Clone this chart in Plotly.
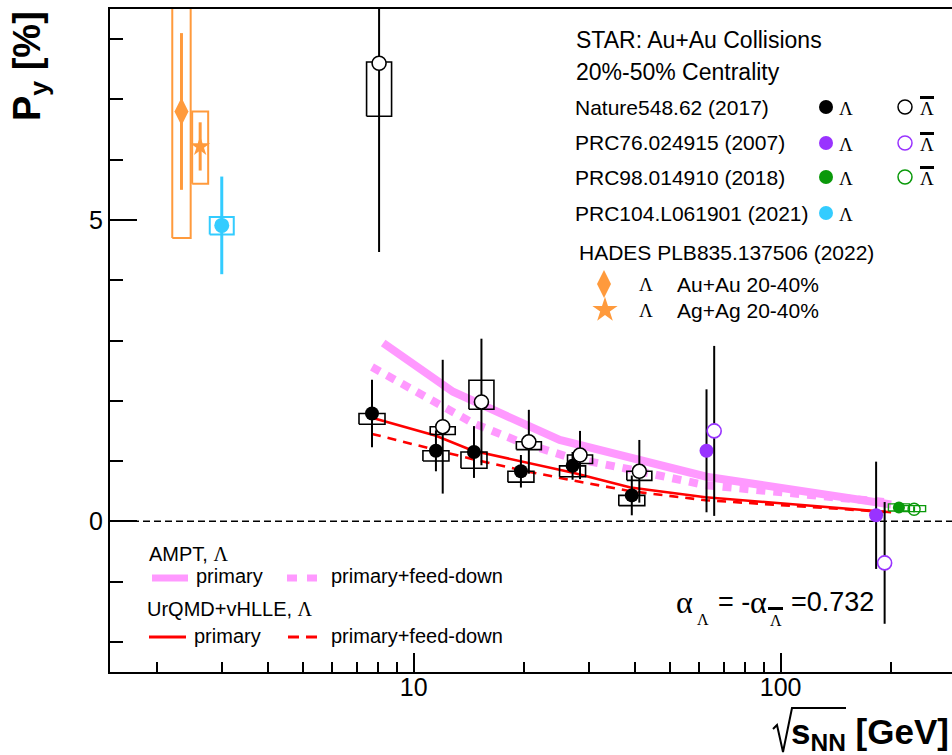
import math
import plotly.graph_objects as go

# ---------------- data ----------------
# STAR BES-I, Nature 548, 62 (2017): Lambda (filled) / anti-Lambda (open)
bes_lam_E = [7.7, 11.5, 14.6, 19.6, 27.1, 39.3]
bes_lam_P = [1.79, 1.17, 1.15, 0.83, 0.92, 0.43]
bes_lam_stat = [0.56, 0.34, 0.43, 0.27, 0.23, 0.33]
bes_lam_sys_lo = [1.61, 1.00, 0.88, 0.65, 0.74, 0.26]
bes_lam_sys_hi = [1.79, 1.17, 1.15, 0.83, 0.92, 0.43]

bes_alam_E = [8.05, 12.0, 15.3, 20.6, 28.4, 41.2]
bes_alam_P = [7.60, 1.57, 1.98, 1.32, 1.10, 0.83]
bes_alam_stat = [3.13, 1.11, 1.05, 0.53, 0.40, 0.52]
bes_alam_sys_lo = [6.72, 1.44, 1.86, 1.19, 0.96, 0.68]
bes_alam_sys_hi = [7.62, 1.57, 2.34, 1.32, 1.10, 0.83]

# STAR PRC 76, 024915 (2007)
prc76_lam_E = [62.8, 182.0]
prc76_lam_P = [1.17, 0.10]
prc76_lam_stat = [1.02, 0.89]
prc76_alam_E = [65.9, 192.0]
prc76_alam_P = [1.50, -0.69]
prc76_alam_stat = [1.41, 1.01]

# STAR PRC 98, 014910 (2018)
prc98_lam_E = [210.0]
prc98_lam_P = [0.23]
prc98_lam_stat = [0.04]
prc98_lam_sys_lo = [0.17]
prc98_lam_sys_hi = [0.29]
prc98_alam_E = [231.0]
prc98_alam_P = [0.20]
prc98_alam_stat = [0.05]
prc98_alam_sys_lo = [0.16]
prc98_alam_sys_hi = [0.26]

# STAR PRC 104, L061901 (2021), 3 GeV
prc104_E = [3.0]
prc104_P = [4.91]
prc104_stat = [0.81]
prc104_sys_lo = [4.76]
prc104_sys_hi = [5.05]

# HADES PLB 835, 137506 (2022)
hades_auau_E = [2.33]
hades_auau_P = [6.80]
hades_auau_stat = [1.30]
hades_auau_sys_lo = [4.70]
hades_auau_sys_hi = [8.90]
hades_agag_E = [2.62]
hades_agag_P = [6.22]
hades_agag_stat = [0.40]
hades_agag_sys_lo = [5.60]
hades_agag_sys_hi = [6.80]

# Model curves
ampt_prim_E = [8.26, 12.8, 25.0, 62.8, 200.0]
ampt_prim_P = [2.96, 2.15, 1.35, 0.74, 0.28]
ampt_fd_E = [7.7, 11.5, 14.5, 19.6, 27.0, 39.0, 62.4, 200.0]
ampt_fd_P = [2.56, 1.96, 1.63, 1.31, 1.05, 0.86, 0.60, 0.31]
urqmd_E = [7.7, 11.5, 14.5, 19.6, 27.0, 39.0, 62.4, 200.0]
urqmd_prim_P = [1.72, 1.42, 1.17, 0.99, 0.81, 0.56, 0.40, 0.15]
urqmd_fd_P = [1.45, 1.19, 1.03, 0.85, 0.68, 0.50, 0.35, 0.15]

x_tick_vals = [10, 100]
x_tick_text = ["10", "100"]
x_minor_vals = [2, 3, 4, 5, 6, 7, 8, 9, 20, 30, 40, 50, 60, 70, 80, 90, 200]
y_tick_vals = [0, 5]
y_tick_text = ["0", "5"]
y_minor_vals = [-2, -1, 1, 2, 3, 4, 6, 7, 8]

# ---------------- style ----------------
W, H = 952, 755
L, R, T, B = 110, 0, 9, 83
PW, PH = W - L - R, H - T - B
X_MIN, X_MAX = 1.488, 293.0
Y_MIN, Y_MAX = -2.5, 8.5
DECADE_PX = PW / (math.log10(X_MAX) - math.log10(X_MIN))

SANS = "Liberation Sans, Arial, sans-serif"
SERIF = "Liberation Serif, Times New Roman, serif"
ORANGE = "#ff9a3c"
CYAN = "#33ccff"
PURPLE = "#9933ff"
GREEN = "#0a990a"
PINK = "#ff99ff"
RED = "#ff0000"

fig = go.Figure()


def px_x(px):
    return (px - L) / PW


def px_y(py):
    return (H - B - py) / PH


def sys_boxes(E, lo, hi, half_px, color, width=1.6):
    f = 10 ** (half_px / DECADE_PX)
    xs, ys = [], []
    for e, a, b in zip(E, lo, hi):
        xs += [e / f, e * f, e * f, e / f, e / f, None]
        ys += [a, a, b, b, a, None]
    fig.add_trace(go.Scatter(x=xs, y=ys, mode="lines",
                             line=dict(color=color, width=width),
                             hoverinfo="skip", showlegend=False))


def points(E, P, stat, color, symbol="circle", size=14, open_=False,
           fill="white", bar_color=None, bar_w=2, line_w=1.6):
    marker = dict(symbol=symbol, size=size)
    if open_:
        marker.update(color=fill, line=dict(color=color, width=line_w))
    else:
        marker.update(color=color, line=dict(width=0))
    fig.add_trace(go.Scatter(
        x=E, y=P, mode="markers", marker=marker,
        error_y=dict(type="data", array=stat, color=bar_color or color,
                     thickness=bar_w, width=0),
        hoverinfo="skip", showlegend=False))


def curve(E, P, color, width, dash="solid"):
    fig.add_trace(go.Scatter(x=E, y=P, mode="lines",
                             line=dict(color=color, width=width, dash=dash),
                             hoverinfo="skip", showlegend=False))


# model curves
curve(ampt_prim_E, ampt_prim_P, PINK, 8)
curve(ampt_fd_E, ampt_fd_P, PINK, 8, "9px,8px")
curve(urqmd_E, urqmd_prim_P, RED, 2.6)
curve(urqmd_E, urqmd_fd_P, RED, 2.6, "9px,7px")

# systematic boxes
sys_boxes(bes_lam_E, bes_lam_sys_lo, bes_lam_sys_hi, 13, "black")
sys_boxes(bes_alam_E, bes_alam_sys_lo, bes_alam_sys_hi, 12.5, "black")
sys_boxes(prc98_lam_E, prc98_lam_sys_lo, prc98_lam_sys_hi, 10.5, GREEN, 1.4)
sys_boxes(prc98_alam_E, prc98_alam_sys_lo, prc98_alam_sys_hi, 11.5, GREEN, 1.4)
sys_boxes(prc104_E, prc104_sys_lo, prc104_sys_hi, 12, CYAN, 2)
sys_boxes(hades_auau_E, hades_auau_sys_lo, hades_auau_sys_hi, 9.2, ORANGE, 2)
sys_boxes(hades_agag_E, hades_agag_sys_lo, hades_agag_sys_hi, 8, ORANGE, 2)

# data points
points(bes_alam_E, bes_alam_P, bes_alam_stat, "black", open_=True, size=14)
points(bes_lam_E, bes_lam_P, bes_lam_stat, "black", size=14)
points(prc76_lam_E, prc76_lam_P, prc76_lam_stat, PURPLE, size=14, bar_color="black")
points(prc76_alam_E, prc76_alam_P, prc76_alam_stat, PURPLE, open_=True, size=14,
       bar_color="black")
points(prc98_alam_E, prc98_alam_P, prc98_alam_stat, GREEN, open_=True, size=12,
       fill="rgba(0,0,0,0)", line_w=1.4)
points(prc98_lam_E, prc98_lam_P, prc98_lam_stat, GREEN, size=12)
points(prc104_E, prc104_P, prc104_stat, CYAN, size=15, bar_w=3)
points(hades_auau_E, hades_auau_P, hades_auau_stat, ORANGE, symbol="diamond-tall",
       size=20, bar_w=3)
points(hades_agag_E, hades_agag_P, hades_agag_stat, ORANGE, symbol="star",
       size=15, bar_w=3)

# ---------------- legend / labels ----------------
ann = []
shapes = []


def text(x, y, s, size=21, family=SANS, anchor="left", color="black"):
    ann.append(dict(x=px_x(x), y=px_y(y), xref="paper", yref="paper", text=s,
                    showarrow=False, xanchor=anchor, yanchor="middle", borderpad=0,
                    font=dict(family=family, size=size, color=color)))


def bar(x0, x1, y0, y1):
    shapes.append(dict(type="rect", xref="paper", yref="paper",
                       x0=px_x(x0), x1=px_x(x1), y0=px_y(y0), y1=px_y(y1),
                       fillcolor="black", line=dict(width=0)))


def glyph(x, y, color, symbol="circle", size=14, open_=False, fill="white"):
    m = dict(symbol=symbol, size=size)
    if open_:
        m.update(color=fill, line=dict(color=color, width=1.5))
    else:
        m.update(color=color, line=dict(width=0))
    fig.add_trace(go.Scatter(x=[x], y=[y], xaxis="x2", yaxis="y2", mode="markers",
                             marker=m, cliponaxis=False, hoverinfo="skip",
                             showlegend=False))


def sample(x0, x1, y, color, width, dash="solid"):
    fig.add_trace(go.Scatter(x=[x0, x1], y=[y, y], xaxis="x2", yaxis="y2",
                             mode="lines", line=dict(color=color, width=width, dash=dash),
                             cliponaxis=False, hoverinfo="skip", showlegend=False))


text(575, 40, "STAR: Au+Au Collisions", 23)
text(575, 72, "20%-50% Centrality", 23)

rows = [("Nature548.62 (2017)", "black", True, 107),
        ("PRC76.024915 (2007)", PURPLE, True, 143),
        ("PRC98.014910 (2018)", GREEN, True, 177),
        ("PRC104.L061901 (2021)", CYAN, False, 213)]
for label, col, has_bar, y in rows:
    text(574, y, label, 21)
    glyph(826, y, col, size=14)
    text(846, y + 1, "Λ", 19, SERIF, "center")
    if has_bar:
        glyph(905, y, col, size=14, open_=True,
              fill="rgba(0,0,0,0)" if col == GREEN else "white")
        text(927, y + 1, "Λ", 19, SERIF, "center")
        bar(920, 934, y - 11, y - 8)

text(578, 252, "HADES PLB835.137506 (2022)", 21)
glyph(604, 284, ORANGE, "diamond-tall", 20)
text(646, 284, "Λ", 19, SERIF, "center")
text(676, 284, "Au+Au 20-40%", 21)
glyph(605, 310, ORANGE, "star", 19)
text(646, 310, "Λ", 19, SERIF, "center")
text(676, 310, "Ag+Ag 20-40%", 21)

text(148, 554, "AMPT, <span style='font-family:Liberation Serif'>Λ</span>", 20)
sample(152, 188, 578, PINK, 7)
text(195, 576, "primary", 20)
sample(287, 317, 578, PINK, 7, "10px,10px")
text(330, 576, "primary+feed-down", 20)
text(146, 609, "UrQMD+vHLLE, <span style='font-family:Liberation Serif'>Λ</span>", 20)
sample(149, 186, 637, RED, 3)
text(193, 636, "primary", 20)
sample(288, 318, 637, RED, 3, "11px,7px")
text(330, 636, "primary+feed-down", 20)

# alpha_Lambda = -alpha_antiLambda = 0.732
text(675, 602, "α", 32, SERIF)
text(696, 619, "Λ", 16, SERIF)
text(717, 602, "= -", 27)
text(749, 602, "α", 32, SERIF)
bar(768, 783, 607, 610)
text(769, 620, "Λ", 16, SERIF)
text(790, 602, "=0.732", 27)

# x-axis title: radical sign drawn as a path, then s_NN [GeV]
rad = [(773, 729), (777, 725), (783, 752), (792, 708), (846, 708)]
path = "M " + " L ".join(f"{px_x(a):.5f},{px_y(b):.5f}" for a, b in rad)
shapes.append(dict(type="path", xref="paper", yref="paper", path=path,
                   line=dict(color="black", width=2)))
text(950, 734, "<b>s<sub>NN</sub> [GeV]</b>", 35, SANS, "right")

# y-axis title
ann.append(dict(x=px_x(30), y=px_y(9), xref="paper", yref="paper",
                text="<b>P<sub>y</sub> [%]</b>", textangle=-90, showarrow=False,
                xanchor="center", yanchor="top",
                font=dict(family=SANS, size=38, color="black")))

# dashed zero line
shapes.append(dict(type="line", xref="paper", x0=0, x1=1, yref="y", y0=0, y1=0,
                   line=dict(color="black", width=1.5, dash="7px,4px"), layer="below"))

fig.update_layout(
    width=W, height=H,
    margin=dict(l=L, r=R, t=T, b=B, pad=0),
    paper_bgcolor="white", plot_bgcolor="white",
    showlegend=False,
    annotations=ann, shapes=shapes,
    xaxis=dict(type="log", range=[math.log10(X_MIN), math.log10(X_MAX)],
               showgrid=False, zeroline=False,
               showline=True, linecolor="black", linewidth=2, mirror=True,
               ticks="inside", ticklen=19, tickwidth=2, tickcolor="black",
               tickmode="array", tickvals=x_tick_vals, ticktext=x_tick_text,
               ticklabelstandoff=-8,
               tickfont=dict(family=SANS, size=25, color="black"),
               minor=dict(tickmode="array", tickvals=x_minor_vals, ticks="inside",
                          ticklen=10, tickwidth=2, tickcolor="black", showgrid=False)),
    yaxis=dict(range=[Y_MIN, Y_MAX], showgrid=False, zeroline=False,
               showline=True, linecolor="black", linewidth=2,
               ticks="inside", ticklen=27, tickwidth=2, tickcolor="black",
               tickmode="array", tickvals=y_tick_vals, ticktext=y_tick_text,
               tickfont=dict(family=SANS, size=25, color="black"),
               minor=dict(tickmode="array", tickvals=y_minor_vals, ticks="inside",
                          ticklen=13, tickwidth=2, tickcolor="black", showgrid=False)),
    xaxis2=dict(overlaying="x", range=[L, W - R], visible=False, fixedrange=True),
    yaxis2=dict(overlaying="y", range=[H - B, T], visible=False, fixedrange=True),
)

fig.write_html("out.html")
